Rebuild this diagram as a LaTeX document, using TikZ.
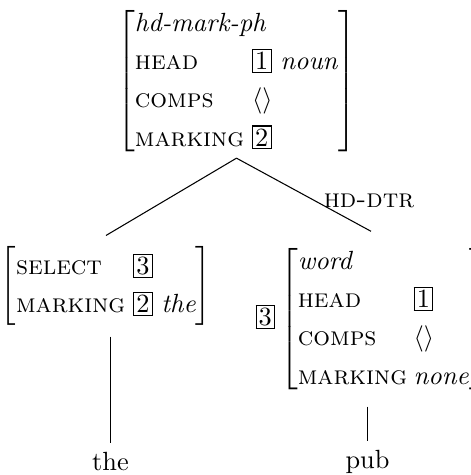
\documentclass[tikz,border=0pt]{standalone}
\usepackage{array}
\newcommand{\tagbx}[1]{{\setlength\fboxsep{0.8pt}\fbox{#1}}}
\newcommand{\feat}[1]{\textsc{#1}}
\newcommand{\avmtype}[1]{\multicolumn{2}{@{}l@{}}{\textit{#1}}}
\tikzset{avm/.style={inner sep=0pt},
  every node/.style={font=\fontsize{10}{13}\selectfont}}
\begin{document}
\begin{tikzpicture}[x=0.38pt,y=-0.38pt]
            \useasboundingbox (0,0) rectangle (471,475);
            \renewcommand{\arraystretch}{1.12}
            \node[avm] (mother) at (236.5,81) {$\left[\begin{tabular}{@{}l@{\hspace{3pt}}l@{}}
                \avmtype{hd-mark-ph} \\
                \feat{head} & \tagbx{1} \textit{noun} \\
                \feat{comps} & $\langle\rangle$ \\
                \feat{marking} & \tagbx{2}
              \end{tabular}\right]$};
            \node[avm] (marker) at (106,286) {$\left[\begin{tabular}{@{}l@{\hspace{3pt}}l@{}}
                \feat{select} & \tagbx{3} \\
                \feat{marking} & \tagbx{2} \textit{the}
              \end{tabular}\right]$};
            \node[avm, anchor=west] (headdtr) at (255,319) {\tagbx{3}\hspace{2pt}$\left[\begin{tabular}{@{}l@{\hspace{2.5pt}}l@{}}
                \avmtype{word} \\
                \feat{head} & \tagbx{1} \\
                \feat{comps} & $\langle\rangle$ \\
                \feat{marking} & \textit{none}
              \end{tabular}\right]$};
            \node (the) at (110.5,462) {the};
            \node (pub) at (367.5,462) {pub};
            \draw (mother.south) -- ([yshift=4pt]marker.north);
            \draw (mother.south) -- node[pos=0.58, right=0pt] {\feat{hd-dtr}} ([yshift=4pt]headdtr.north);
            \draw ([yshift=-4pt]the.north |- marker.south) -- (the.north);
            \draw ([yshift=-4pt]pub.north |- headdtr.south) -- (pub.north);
        \end{tikzpicture}
\end{document}
